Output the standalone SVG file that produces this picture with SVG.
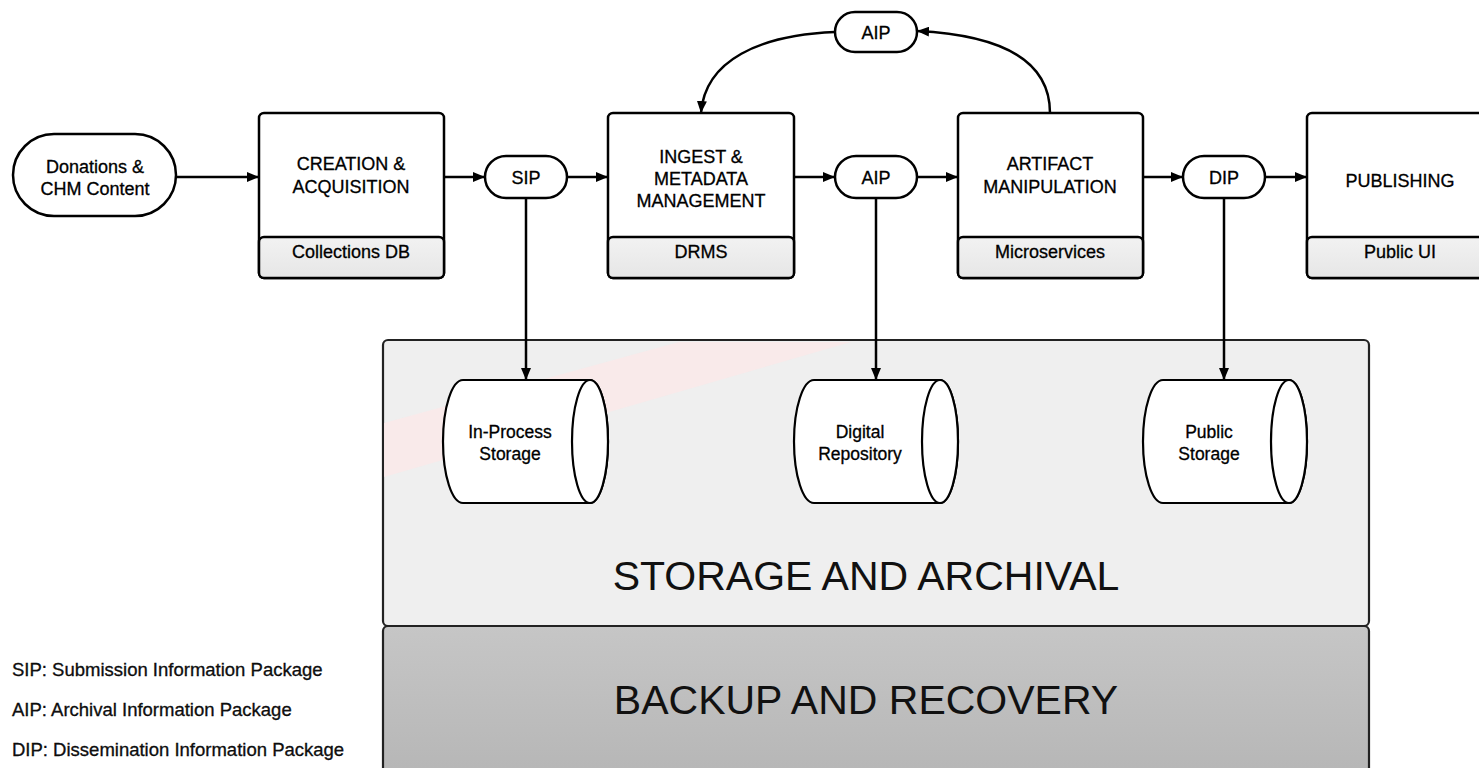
<svg xmlns="http://www.w3.org/2000/svg" width="1479" height="768" viewBox="0 0 1479 768">
<defs>
<marker id="ah" viewBox="0 0 12 10" refX="12" refY="5" markerWidth="12" markerHeight="10" orient="auto" markerUnits="userSpaceOnUse"><path d="M0,0 L12,5 L0,10 z" fill="#000"/></marker>
<linearGradient id="gSub" x1="0" y1="0" x2="0" y2="1"><stop offset="0" stop-color="#f2f2f2"/><stop offset="1" stop-color="#e6e6e6"/></linearGradient>
<linearGradient id="gBack" x1="0" y1="0" x2="0" y2="1"><stop offset="0" stop-color="#c6c6c6"/><stop offset="1" stop-color="#b4b4b4"/></linearGradient>
<style>
.box{fill:#fff;stroke:#000;stroke-width:2.5}
.sub{fill:url(#gSub);stroke:#000;stroke-width:2.5}
.pill{fill:#fff;stroke:#000;stroke-width:2.5}
text{font-family:"Liberation Sans",Arial,sans-serif;fill:#000;stroke:#000;stroke-width:0.3}
.t{font-size:18px;text-anchor:middle}
.s{font-size:18px;text-anchor:middle}
.c{font-size:17.5px;text-anchor:middle}
.big{font-size:41px;text-anchor:middle;fill:#111;stroke:none}
.leg{font-size:18.5px;fill:#111}
.ln{fill:none;stroke:#000;stroke-width:2.5;marker-end:url(#ah)}
.cyl{fill:#fff;stroke:#000;stroke-width:2.2}
</style>
</defs>
<rect width="1479" height="768" fill="#fff"/>

<g id="storage">
<rect x="383" y="340" width="986" height="286" rx="5" fill="#efefef" stroke="#222" stroke-width="2.2"/>
<polygon points="384,423 384,477 851,342 679,342" fill="#fbe8e8" opacity="0.8"/>
<text class="big" x="866" y="590">STORAGE AND ARCHIVAL</text>
</g>
<g id="backup">
<rect x="383" y="626" width="986" height="170" rx="5" fill="url(#gBack)" stroke="#222" stroke-width="2.2"/>
<text class="big" x="866" y="714">BACKUP AND RECOVERY</text>
</g>

<g id="donations">
<rect class="pill" x="13" y="134" width="163" height="82" rx="41"/>
<text class="t" x="95" y="173">Donations &amp;</text>
<text class="t" x="95" y="195">CHM Content</text>
</g>

<g id="creation">
<rect class="box" x="259" y="113" width="185" height="165" rx="5"/>
<rect class="sub" x="259" y="237" width="185" height="41" rx="5"/>
<text class="t" x="351" y="170">CREATION &amp;</text>
<text class="t" x="351" y="193">ACQUISITION</text>
<text class="s" x="351" y="258">Collections DB</text>
</g>

<g id="ingest">
<rect class="box" x="608" y="113" width="186" height="165" rx="5"/>
<rect class="sub" x="608" y="237" width="186" height="41" rx="5"/>
<text class="t" x="701" y="163">INGEST &amp;</text>
<text class="t" x="701" y="185">METADATA</text>
<text class="t" x="701" y="207">MANAGEMENT</text>
<text class="s" x="701" y="258">DRMS</text>
</g>

<g id="artifact">
<rect class="box" x="958" y="113" width="185" height="165" rx="5"/>
<rect class="sub" x="958" y="237" width="185" height="41" rx="5"/>
<text class="t" x="1050" y="170">ARTIFACT</text>
<text class="t" x="1050" y="193">MANIPULATION</text>
<text class="s" x="1050" y="258">Microservices</text>
</g>

<g id="publishing">
<rect class="box" x="1307" y="113" width="200" height="165" rx="5"/>
<rect class="sub" x="1307" y="237" width="200" height="41" rx="5"/>
<text class="t" x="1400" y="187">PUBLISHING</text>
<text class="s" x="1400" y="258">Public UI</text>
</g>

<g id="sip">
<rect class="pill" x="485" y="156" width="82" height="42" rx="21"/>
<text class="t" x="526" y="184">SIP</text>
</g>
<g id="aip">
<rect class="pill" x="835" y="156" width="82" height="42" rx="21"/>
<text class="t" x="876" y="184">AIP</text>
</g>
<g id="dip">
<rect class="pill" x="1183" y="156" width="82" height="42" rx="21"/>
<text class="t" x="1224" y="184">DIP</text>
</g>
<g id="aip-top">
<rect class="pill" x="835" y="12" width="82" height="40" rx="20"/>
<text class="t" x="876" y="39">AIP</text>
</g>

<g id="inprocess">
<path class="cyl" d="M463,380 L590,380 A18,61.5 0 0 1 590,503 L463,503 A20,61.5 0 0 1 463,380 Z"/>
<ellipse class="cyl" cx="590" cy="441.5" rx="18" ry="61.5"/>
<text class="c" x="510" y="438">In-Process</text>
<text class="c" x="510" y="460">Storage</text>
</g>
<g id="digital">
<path class="cyl" d="M814,380 L940,380 A18,61.5 0 0 1 940,503 L814,503 A20,61.5 0 0 1 814,380 Z"/>
<ellipse class="cyl" cx="940" cy="441.5" rx="18" ry="61.5"/>
<text class="c" x="860" y="438">Digital</text>
<text class="c" x="860" y="460">Repository</text>
</g>
<g id="public">
<path class="cyl" d="M1163,380 L1289,380 A18,61.5 0 0 1 1289,503 L1163,503 A20,61.5 0 0 1 1163,380 Z"/>
<ellipse class="cyl" cx="1289" cy="441.5" rx="18" ry="61.5"/>
<text class="c" x="1209" y="438">Public</text>
<text class="c" x="1209" y="460">Storage</text>
</g>

<g id="connectors">
<line class="ln" x1="176" y1="177" x2="259" y2="177"/>
<line class="ln" x1="444" y1="177" x2="485" y2="177"/>
<line class="ln" x1="567" y1="177" x2="608" y2="177"/>
<line class="ln" x1="794" y1="177" x2="835" y2="177"/>
<line class="ln" x1="917" y1="177" x2="958" y2="177"/>
<line class="ln" x1="1143" y1="177" x2="1183" y2="177"/>
<line class="ln" x1="1265" y1="177" x2="1307" y2="177"/>
<line class="ln" x1="526" y1="198" x2="526" y2="380"/>
<line class="ln" x1="876" y1="198" x2="876" y2="380"/>
<line class="ln" x1="1224" y1="198" x2="1224" y2="380"/>
<path class="ln" d="M1050,113 C1050,60 1000,35 917,31"/>
<path class="ln" d="M835,32 C760,35 705,60 701,113"/>
</g>

<g id="legend">
<text class="leg" x="12" y="676">SIP: Submission Information Package</text>
<text class="leg" x="12" y="716">AIP: Archival Information Package</text>
<text class="leg" x="12" y="756">DIP: Dissemination Information Package</text>
</g>
</svg>
